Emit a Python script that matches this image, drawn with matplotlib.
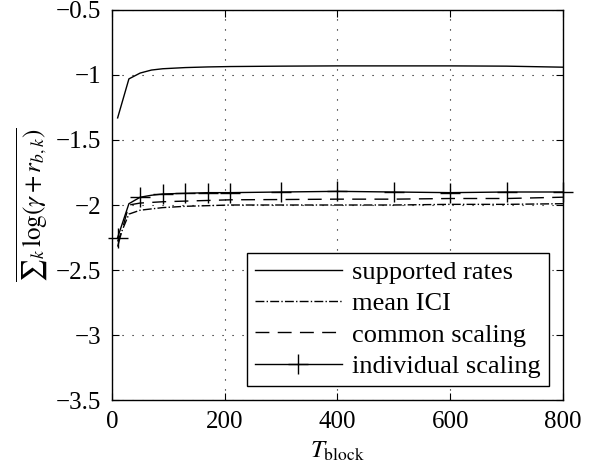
import numpy as np
import matplotlib
matplotlib.use('Agg')
import matplotlib.pyplot as plt

plt.rcParams['font.family'] = ['Liberation Serif', 'DejaVu Serif']
plt.rcParams['mathtext.fontset'] = 'stix'

# block lengths (x axis)
t_block = [10, 30, 50, 70, 90, 130, 170, 210, 300, 400, 500, 600, 700, 800]

# averaged sum log utility for each scheme
supported_rates = [-1.33, -1.03, -0.985, -0.962, -0.952, -0.943, -0.938, -0.935,
                   -0.932, -0.930, -0.930, -0.930, -0.932, -0.940]
mean_ici = [-2.28, -2.07, -2.04, -2.03, -2.02, -2.01, -2.005, -2.0,
            -2.0, -2.0, -2.0, -1.995, -1.995, -1.99]
common_scaling = [-2.32, -2.0, -1.985, -1.98, -1.975, -1.97, -1.965, -1.96,
                  -1.958, -1.955, -1.955, -1.95, -1.95, -1.94]
individual_scaling = [-2.25, -1.99, -1.94, -1.925, -1.915, -1.91, -1.905, -1.905,
                      -1.90, -1.895, -1.90, -1.905, -1.90, -1.90]
marker_idx = [0, 2, 4, 5, 6, 7, 8, 9, 10, 11, 12, 13]

fig = plt.figure(figsize=(5.97, 4.71), dpi=100)
ax = fig.add_axes([0.1876, 0.1507, 0.7554, 0.8281])

ax.plot(t_block, supported_rates, 'k-', lw=1.0, label='supported rates')
ax.plot(t_block, mean_ici, 'k-.', lw=1.0, label='mean ICI')
ax.plot(t_block, common_scaling, 'k--', lw=1.0, dashes=(10, 6), label='common scaling')
ax.plot(t_block, individual_scaling, 'k-', lw=1.0, marker='+', ms=15, mew=1.0,
        markevery=marker_idx, label='individual scaling', clip_on=False)

ax.set_xlim(0, 800)
ax.set_ylim(-3.5, -0.5)
ax.set_xticks([0, 200, 400, 600, 800])
ax.set_yticks([-3.5, -3, -2.5, -2, -1.5, -1, -0.5])
ax.set_yticklabels(['\u22123.5', '\u22123', '\u22122.5', '\u22122', '\u22121.5', '\u22121', '\u22120.5'])
ax.grid(True, color='k', linestyle=(0, (1, 8)), lw=0.8)
ax.tick_params(direction='in', top=True, right=True, length=5, labelsize=18, pad=8)
for s in ax.spines.values():
    s.set_linewidth(1.0)

ax.set_xlabel(r'$T_{\mathrm{block}}$', fontsize=18, labelpad=5)
ax.set_ylabel(r'$\overline{{\sum}_k\,\log(\gamma + r_{b,k})}$', fontsize=18, labelpad=4)

leg = ax.legend(loc='lower right', prop={'size': 19}, fancybox=False, edgecolor='k',
                framealpha=1, handlelength=3.3, handletextpad=0.4,
                labelspacing=0.3, borderaxespad=0.53, borderpad=0.3)
leg.get_frame().set_linewidth(1.0)

plt.savefig('out.png', dpi=100)
